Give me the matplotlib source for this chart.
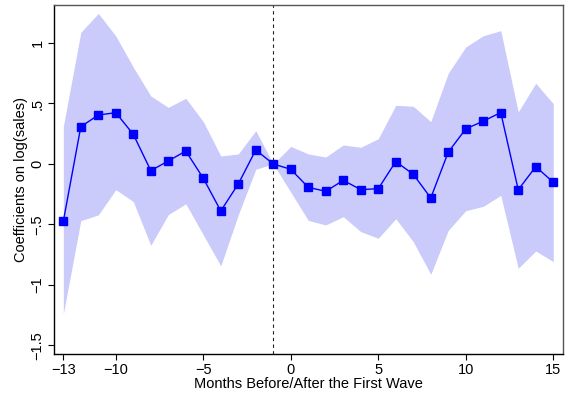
import matplotlib
matplotlib.use("Agg")
import matplotlib.pyplot as plt
import numpy as np

plt.rcParams["font.family"] = ["Liberation Sans", "DejaVu Sans"]

# Event-study coefficients, months relative to the first wave (-1 is the reference month)
months = np.arange(-13, 16)
coef = [-0.474, 0.308, 0.405, 0.424, 0.245, -0.055, 0.025, 0.107, -0.118, -0.388,
        -0.165, 0.116, 0.0, -0.044, -0.193, -0.226, -0.135, -0.212, -0.204, 0.020,
        -0.085, -0.281, 0.098, 0.290, 0.354, 0.425, -0.213, -0.022, -0.151]
ci_upper = [0.31, 1.088, 1.245, 1.058, 0.80, 0.562, 0.468, 0.543, 0.35, 0.066,
            0.083, 0.275, 0.0, 0.145, 0.083, 0.058, 0.157, 0.138, 0.209, 0.485,
            0.477, 0.35, 0.75, 0.967, 1.06, 1.102, 0.430, 0.667, 0.499]
ci_lower = [-1.24, -0.468, -0.421, -0.212, -0.311, -0.672, -0.418, -0.329, -0.586, -0.842,
            -0.42, -0.043, 0.0, -0.233, -0.466, -0.504, -0.435, -0.559, -0.614, -0.452,
            -0.642, -0.912, -0.548, -0.386, -0.350, -0.259, -0.862, -0.719, -0.807]

xticks = [-13, -10, -5, 0, 5, 10, 15]
yticks = [-1.5, -1, -0.5, 0, 0.5, 1]
ytick_labels = ["\u22121.5", "\u22121", "\u2212.5", "0", ".5", "1"]
xtick_labels = ["\u221213", "\u221210", "\u22125", "0", "5", "10", "15"]

fig = plt.figure(figsize=(5.67, 3.98), dpi=100)
ax = fig.add_axes([0.0947, 0.1098, 0.8977, 0.8776])

ax.fill_between(months, ci_lower, ci_upper, color="#cacafb", linewidth=0, zorder=1)
ax.plot(months, coef, color="#0000ff", linewidth=1.0, marker="s", markersize=5.5,
        markerfacecolor="#0000ff", markeredgecolor="#0000ff", zorder=3)
ax.axvline(-1, color="#222222", linestyle=(0, (3, 3)), linewidth=0.8, zorder=2)

ax.set_xlim(-13.55, 15.54)
ax.set_ylim(-1.573, 1.314)
ax.set_xticks(xticks)
ax.set_xticklabels(xtick_labels)
ax.set_yticks(yticks)
ax.set_yticklabels(ytick_labels, rotation=90, va="center")
ax.tick_params(axis="both", direction="out", length=4, width=0.8, labelsize=10.5,
               color="black", pad=2.5)

for side in ["left", "bottom"]:
    ax.spines[side].set_color("black")
    ax.spines[side].set_linewidth(1.0)
for side in ["top", "right"]:
    ax.spines[side].set_color("#555555")
    ax.spines[side].set_linewidth(1.0)

ax.set_xlabel("Months Before/After the First Wave", fontsize=10.5, labelpad=0)
ax.set_ylabel("Coefficients on log(sales)", fontsize=10.5, labelpad=2)

fig.savefig("out.png", dpi=100)
plt.close()
